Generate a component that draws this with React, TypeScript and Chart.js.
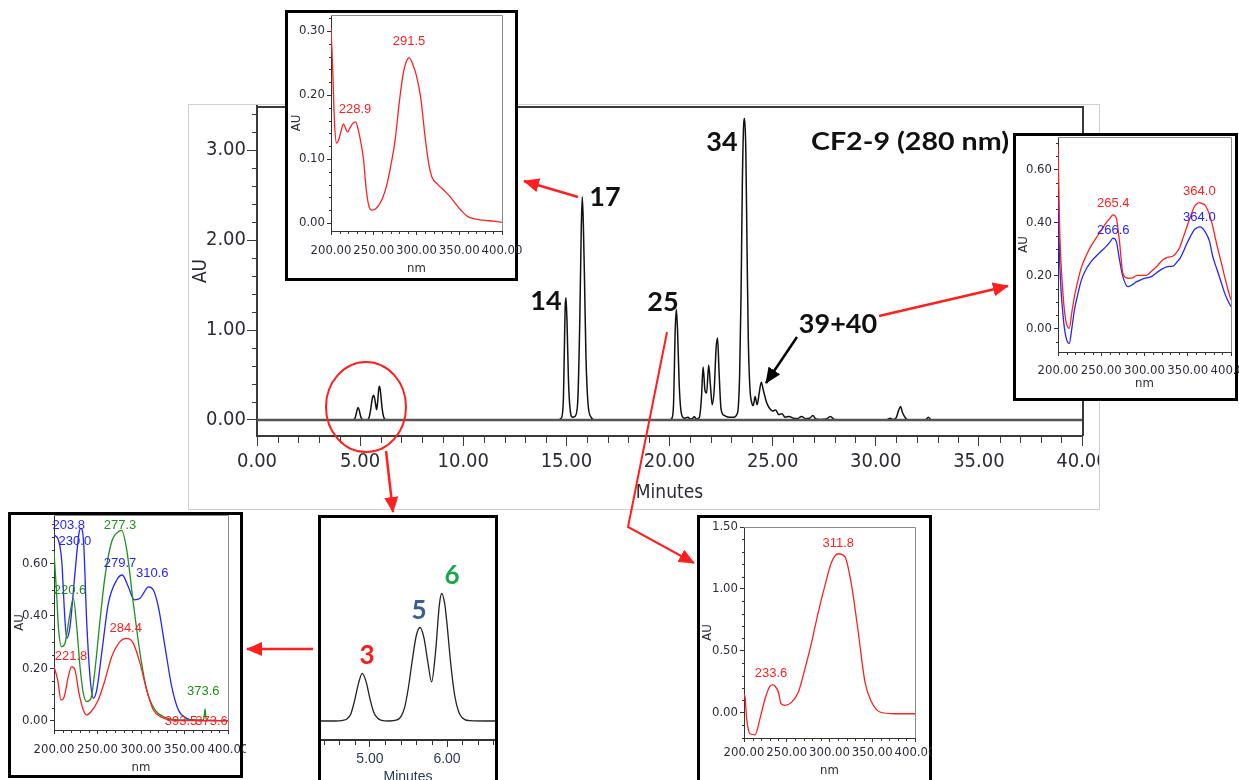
import React, { useEffect, useRef } from 'react';
import { Chart, registerables } from 'chart.js';

Chart.register(...registerables);

const NARROW = "'Liberation Sans Narrow', 'DejaVu Sans Condensed', 'Liberation Sans', Arial, sans-serif";
const SANS = "'Liberation Sans', Arial, sans-serif";
const BOLD = "Lato, 'Open Sans', 'Liberation Sans', sans-serif";

const RED = '#ff1f1f';
const BLUE = '#2424ff';
const GREEN = '#1f8f1f';

// ---------------- main chromatogram (280 nm) ----------------
const chromTime = [0, 4.55, 4.65, 4.7, 4.75, 4.8, 4.85, 4.9, 4.95, 5.0, 5.05, 5.1, 5.15, 5.25, 5.35, 5.4, 5.45, 5.5, 5.55, 5.6, 5.65, 5.7, 5.75, 5.8, 5.85, 5.9, 5.93, 5.97, 6.0, 6.05, 6.1, 6.15, 6.2, 6.3, 6.5,
  14.6, 14.75, 14.85, 14.9, 14.94, 14.98, 15.03, 15.1, 15.18, 15.3, 15.42, 15.55, 15.65, 15.72, 15.77, 15.82, 15.88, 15.95, 16.05, 16.2, 16.4,
  20.0, 20.12, 20.2, 20.27, 20.33, 20.39, 20.47, 20.57, 20.72, 20.9, 21.0, 21.1, 21.2, 21.3, 21.45, 21.55, 21.63, 21.72, 21.8, 21.9, 21.98, 22.07, 22.17, 22.26, 22.33, 22.4, 22.5, 22.65, 22.9, 23.1,
  23.3, 23.4, 23.47, 23.53, 23.6, 23.64, 23.7, 23.76, 23.82, 23.9, 23.98, 24.06, 24.15, 24.25, 24.35, 24.45, 24.55, 24.7, 24.85, 25.0, 25.15, 25.3, 25.45, 25.6, 25.8, 26.0, 26.2, 26.4, 26.6, 26.8, 26.95, 27.1, 27.3, 27.6, 27.8, 28.0, 28.3,
  30.5, 30.7, 30.85, 31.0, 31.1, 31.2, 31.3, 31.45, 31.6, 32.4, 32.55, 32.7, 40];
const chromAU = [0, 0, 0.002, 0.006, 0.02, 0.06, 0.11, 0.14, 0.115, 0.065, 0.025, 0.008, 0.002, 0, 0.003, 0.012, 0.04, 0.1, 0.18, 0.25, 0.275, 0.245, 0.175, 0.115, 0.2, 0.34, 0.375, 0.345, 0.285, 0.165, 0.075, 0.028, 0.009, 0.001, 0,
  0, 0.02, 0.2, 0.75, 1.25, 1.36, 1.1, 0.45, 0.12, 0.03, 0.04, 0.2, 1.1, 2.1, 2.48, 2.2, 1.55, 0.7, 0.18, 0.03, 0,
  0, 0.02, 0.2, 0.95, 1.23, 1.0, 0.4, 0.08, 0.02, 0.03, 0.01, 0.015, 0.035, 0.01, 0.03, 0.25, 0.59, 0.33, 0.3, 0.61, 0.4, 0.17, 0.35, 0.8, 0.91, 0.55, 0.12, 0.05, 0.03, 0.03,
  0.08, 0.5, 1.4, 2.6, 3.3, 3.35, 3.0, 1.9, 0.9, 0.35, 0.2, 0.16, 0.26, 0.17, 0.3, 0.42, 0.33, 0.2, 0.13, 0.1, 0.11, 0.06, 0.07, 0.03, 0.04, 0.02, 0.015, 0.04, 0.015, 0.02, 0.05, 0.01, 0.005, 0.01, 0.04, 0.005, 0,
  0, 0.02, 0.005, 0.03, 0.1, 0.15, 0.08, 0.02, 0, 0, 0.03, 0, 0];
const mainXTicks = [0, 5, 10, 15, 20, 25, 30, 35, 40];
const mainYTicks = [0, 1, 2, 3];
const baselineTime = [0, 40];
const baselineAU = [0, 0];

// ---------------- inset: peak 17 spectrum ----------------
const spec17Nm = [200, 202, 204, 206.5, 209, 212, 214.5, 217, 219.5, 222, 225, 228.9, 232, 235, 238, 241, 244, 247.5, 252, 256, 260, 265, 270, 275, 280, 284, 288, 291.5, 295, 300, 305, 310, 314, 318, 325, 333, 340, 345, 352, 360, 370, 380, 390, 400];
const spec17AU = [0.305, 0.24, 0.16, 0.125, 0.13, 0.145, 0.155, 0.148, 0.142, 0.148, 0.155, 0.158, 0.145, 0.125, 0.1, 0.055, 0.028, 0.02, 0.022, 0.028, 0.038, 0.058, 0.09, 0.13, 0.19, 0.23, 0.252, 0.258, 0.25, 0.23, 0.195, 0.135, 0.095, 0.072, 0.06, 0.05, 0.04, 0.031, 0.02, 0.01, 0.006, 0.004, 0.003, 0.001];
const spec17Ticks = [0, 0.1, 0.2, 0.3];
const spec17Labels = [
  { text: '228.9', nm: 228.1, au: 0.177, color: RED },
  { text: '291.5', nm: 291.2, au: 0.283, color: RED },
];

// ---------------- inset: peaks 39+40 spectra ----------------
const spec39Nm = [200, 202, 206, 209, 213, 216, 219, 223, 227, 232, 238, 244, 250, 256, 260, 263.6, 267.5, 271, 275, 281, 286, 291, 297, 302, 308, 314, 321, 327, 333, 338, 341, 345, 349, 353, 357, 360, 363.5, 367, 370, 375, 379, 384, 389, 393, 397, 400];
const spec39Red = [0.685, 0.37, 0.12, 0.03, 0.0, 0.06, 0.12, 0.18, 0.23, 0.27, 0.31, 0.34, 0.37, 0.4, 0.415, 0.428, 0.415, 0.33, 0.207, 0.189, 0.19, 0.2, 0.2, 0.2, 0.215, 0.233, 0.258, 0.268, 0.273, 0.29, 0.308, 0.345, 0.383, 0.42, 0.455, 0.468, 0.474, 0.47, 0.465, 0.43, 0.383, 0.31, 0.245, 0.19, 0.14, 0.107];
const spec39Blue = [0.5, 0.245, 0.043, -0.03, -0.057, 0.0, 0.069, 0.13, 0.182, 0.22, 0.251, 0.272, 0.292, 0.31, 0.325, 0.34, 0.327, 0.26, 0.195, 0.157, 0.165, 0.176, 0.185, 0.19, 0.195, 0.21, 0.225, 0.233, 0.235, 0.252, 0.264, 0.29, 0.32, 0.346, 0.37, 0.378, 0.383, 0.378, 0.365, 0.33, 0.27, 0.22, 0.17, 0.13, 0.1, 0.082];
const spec39Ticks = [0, 0.2, 0.4, 0.6];
const spec39Labels = [
  { text: '265.4', nm: 263.9, au: 0.472, color: RED },
  { text: '266.6', nm: 263.9, au: 0.371, color: BLUE },
  { text: '364.0', nm: 363.4, au: 0.518, color: RED },
  { text: '364.0', nm: 363.4, au: 0.419, color: BLUE },
];

// ---------------- inset: peaks 3, 5, 6 spectra ----------------
const spec5Nm = [200, 205, 208.8, 212.6, 214.6, 218.4, 224.1, 228.7, 231, 234.1, 237.5, 241.4, 245.2, 249.1, 254.8, 262.5, 272.1, 278.5, 285.4, 292.3, 298.9, 303.5, 308.4, 314.2, 319.9, 327.6, 335.3, 343, 352.5, 360, 373.6, 400];
const spec5AU = [0.709, 0.69, 0.613, 0.384, 0.314, 0.359, 0.563, 0.715, 0.734, 0.677, 0.384, 0.168, 0.086, 0.117, 0.257, 0.448, 0.537, 0.556, 0.511, 0.461, 0.467, 0.49, 0.511, 0.499, 0.435, 0.282, 0.13, 0.041, 0.009, 0.002, 0, 0];
const spec6Nm = [200, 203, 205, 208.8, 212.6, 218.4, 222.2, 226.1, 229.9, 233.7, 237.5, 242.5, 247.1, 252.9, 258.6, 266.3, 273.9, 277.8, 283.6, 291.2, 298.9, 306.6, 316.1, 327.6, 343, 372, 373.6, 375, 400];
const spec6AU = [0.643, 0.486, 0.359, 0.282, 0.295, 0.41, 0.467, 0.359, 0.206, 0.105, 0.073, 0.086, 0.194, 0.384, 0.55, 0.683, 0.721, 0.725, 0.652, 0.448, 0.257, 0.117, 0.041, 0.013, 0.003, 0.003, 0.045, 0.003, 0];
const spec3Nm = [200, 204.3, 208, 211.8, 216.4, 220.3, 224.1, 228.7, 233.7, 237.5, 242.5, 250.9, 258.6, 266.3, 275.9, 283.6, 291.2, 298.9, 306.6, 314.2, 323.8, 333, 345, 400];
const spec3AU = [0.206, 0.155, 0.079, 0.092, 0.168, 0.206, 0.194, 0.105, 0.041, 0.022, 0.034, 0.079, 0.155, 0.244, 0.302, 0.314, 0.295, 0.219, 0.117, 0.041, 0.013, 0.003, 0, 0];
const spec356Ticks = [0, 0.2, 0.4, 0.6];
const spec356Labels = [
  { text: '203.8', nm: 217, au: 0.747, color: BLUE },
  { text: '230.0', nm: 224, au: 0.683, color: BLUE },
  { text: '277.3', nm: 275.9, au: 0.747, color: GREEN },
  { text: '279.7', nm: 275.9, au: 0.601, color: BLUE },
  { text: '310.6', nm: 313, au: 0.563, color: BLUE },
  { text: '220.6', nm: 218.4, au: 0.499, color: GREEN },
  { text: '284.4', nm: 282.4, au: 0.353, color: RED },
  { text: '221.8', nm: 219.5, au: 0.244, color: RED },
  { text: '373.6', nm: 371.6, au: 0.111, color: GREEN },
  { text: '393.5', nm: 346, au: -0.004, color: RED },
  { text: '373.6', nm: 381, au: -0.004, color: RED },
];

// ---------------- inset: peak 25 spectrum ----------------
const spec25Nm = [200, 201.2, 203.1, 207, 212.9, 218.7, 224.6, 230.4, 233.6, 236.3, 240.2, 243.3, 248, 255.8, 263.6, 271.3, 279.1, 286.9, 294.7, 302.5, 310.3, 318.1, 325.8, 333.6, 341.5, 349.2, 359, 376.6, 400];
const spec25AU = [0.15, 0.127, -0.048, -0.17, -0.178, -0.048, 0.113, 0.215, 0.225, 0.215, 0.167, 0.073, 0.06, 0.086, 0.167, 0.355, 0.571, 0.813, 1.029, 1.217, 1.284, 1.258, 1.029, 0.652, 0.248, 0.086, 0.006, -0.008, -0.008];
const spec25Ticks = [0, 0.5, 1.0, 1.5];
const spec25Labels = [
  { text: '233.6', nm: 231.6, au: 0.315, color: RED },
  { text: '311.8', nm: 310.3, au: 1.365, color: RED },
];

// ---------------- zoomed chromatogram (peaks 3, 5, 6) ----------------
const zoomTicks = [5, 6];
const nmTicks = [200, 250, 300, 350, 400];

// ---------------- helpers ----------------
function steps(a: number, b: number, s: number, skip: number[]) {
  const out: number[] = [];
  const n = Math.round((b - a) / s);
  for (let i = 0; i <= n; i++) {
    const v = +(a + i * s).toFixed(6);
    if (!skip.some((k) => Math.abs(k - v) < 1e-9)) out.push(v);
  }
  return out;
}
const pts = (xs: number[], ys: number[]) => xs.map((x, i) => ({ x, y: ys[i] }));

type Rect = { l: number; t: number; r: number; b: number };
type Axis = {
  min: number; max: number; ticks: number[]; minor: number[];
  fmt: (v: number) => string; font: any; color: string;
  tickLen: number; minorLen: number; pad: number; lineColor: string; lineWidth: number;
  title?: string; titleFont?: any; titlePad?: any;
};
type Label = { text: string; nm: number; au: number; color: string };
type Panel = {
  canvas: Rect; plot: Rect; datasets: any[]; x: Axis; y: Axis | null; yRange?: [number, number];
  frameColor?: string; frameWidth?: number; labels?: Label[]; labelFont?: string;
};

function line(xs: number[], ys: number[], color: string, width: number) {
  return {
    data: pts(xs, ys), borderColor: color, borderWidth: width, pointRadius: 0, fill: false,
    cubicInterpolationMode: 'monotone', tension: 0,
  };
}

function axisCfg(ax: Axis, horiz: boolean, size: number) {
  return {
    type: 'linear', min: ax.min, max: ax.max, position: horiz ? 'bottom' : 'left',
    afterBuildTicks: (s: any) => { s.ticks = ax.ticks.map((v) => ({ value: v })); },
    afterFit: (s: any) => {
      if (horiz) s.height = size; else s.width = size;
      s.paddingLeft = 0; s.paddingRight = 0; s.paddingTop = 0; s.paddingBottom = 0;
    },
    ticks: {
      callback: (v: any) => ax.fmt(Number(v)), font: ax.font, color: ax.color, padding: ax.pad,
      autoSkip: false, maxRotation: 0, minRotation: 0, includeBounds: false,
    },
    grid: { drawOnChartArea: false, drawTicks: true, tickLength: ax.tickLen, color: ax.lineColor, lineWidth: 1 },
    border: { display: true, color: ax.lineColor, width: ax.lineWidth },
    title: ax.title
      ? { display: true, text: ax.title, font: ax.titleFont, color: ax.color, padding: ax.titlePad }
      : { display: false },
  };
}

function makeConfig(p: Panel): any {
  const yW = p.plot.l - p.canvas.l;
  const xH = p.canvas.b - p.plot.b;
  const decor = {
    id: 'decor',
    afterDatasetsDraw(chart: any) {
      const { ctx, chartArea: a, scales } = chart;
      ctx.save();
      if (p.frameColor) {
        const w = p.frameWidth || 1;
        ctx.strokeStyle = p.frameColor; ctx.lineWidth = w;
        ctx.beginPath();
        ctx.moveTo(a.left, a.top + w / 2);
        ctx.lineTo(a.right + w / 2, a.top + w / 2);
        ctx.lineTo(a.right + w / 2, a.bottom);
        ctx.stroke();
      }
      const xs = scales.x;
      ctx.strokeStyle = p.x.lineColor; ctx.lineWidth = 1;
      for (const v of p.x.minor) {
        const px = Math.round(xs.getPixelForValue(v)) + 0.5;
        ctx.beginPath(); ctx.moveTo(px, a.bottom); ctx.lineTo(px, a.bottom + p.x.minorLen); ctx.stroke();
      }
      if (p.y) {
        const ys = scales.y;
        ctx.strokeStyle = p.y.lineColor;
        for (const v of p.y.minor) {
          const py = Math.round(ys.getPixelForValue(v)) + 0.5;
          ctx.beginPath(); ctx.moveTo(a.left - p.y.minorLen, py); ctx.lineTo(a.left, py); ctx.stroke();
        }
      }
      if (p.labels) {
        ctx.font = p.labelFont || `13px ${SANS}`;
        ctx.textAlign = 'center'; ctx.textBaseline = 'middle';
        for (const L of p.labels) {
          ctx.fillStyle = L.color;
          ctx.fillText(L.text, xs.getPixelForValue(L.nm), scales.y.getPixelForValue(L.au));
        }
      }
      ctx.restore();
    },
  };
  return {
    type: 'line',
    data: { datasets: p.datasets },
    options: {
      responsive: false, animation: false, devicePixelRatio: 1, events: [],
      layout: {
        padding: {
          left: p.y ? 0 : p.plot.l - p.canvas.l, top: p.plot.t - p.canvas.t,
          right: p.canvas.r - p.plot.r, bottom: 0,
        },
      },
      plugins: { legend: { display: false }, tooltip: { enabled: false }, title: { display: false } },
      scales: {
        x: axisCfg(p.x, true, xH),
        y: p.y ? axisCfg(p.y, false, yW) : { type: 'linear', display: false, min: p.yRange![0], max: p.yRange![1] },
      },
    },
    plugins: [decor],
  };
}

function PanelChart({ spec }: { spec: Panel }) {
  const ref = useRef<HTMLCanvasElement>(null);
  useEffect(() => {
    const chart = new Chart(ref.current as HTMLCanvasElement, makeConfig(spec));
    return () => chart.destroy();
  }, []);
  const w = spec.canvas.r - spec.canvas.l;
  const h = spec.canvas.b - spec.canvas.t;
  return (
    <canvas ref={ref} width={w} height={h}
      style={{ position: 'absolute', left: spec.canvas.l, top: spec.canvas.t, width: w, height: h, display: 'block' }} />
  );
}

function Box({ l, t, r, b, border }: { l: number; t: number; r: number; b: number; border: string }) {
  return <div style={{ position: 'absolute', left: l, top: t, width: r - l, height: b - t, border, boxSizing: 'border-box', background: '#fff' }} />;
}

// inset axis styling
const INK = '#2c2c38';
const insetTickFont = { family: NARROW, size: 13 };
const insetTitleFont = { family: NARROW, size: 13 };
const f2 = (v: number) => v.toFixed(2);

function nmAxis(pad: number, titlePad: number): Axis {
  return {
    min: 200, max: 400, ticks: nmTicks, minor: steps(200, 400, 10, nmTicks), fmt: f2,
    font: insetTickFont, color: INK, tickLen: 4, minorLen: 3, pad, lineColor: '#333', lineWidth: 1,
    title: 'nm', titleFont: insetTitleFont, titlePad: { top: 0, bottom: titlePad },
  };
}
function auAxis(min: number, max: number, ticks: number[], minorStep: number, titlePad: number): Axis {
  const lo = Math.ceil(min / minorStep) * minorStep;
  const hi = Math.floor(max / minorStep) * minorStep;
  return {
    min, max, ticks, minor: steps(lo, hi, minorStep, ticks), fmt: f2,
    font: insetTickFont, color: INK, tickLen: 4, minorLen: 2, pad: 2, lineColor: '#333', lineWidth: 1,
    title: 'AU', titleFont: insetTitleFont, titlePad: { top: titlePad, bottom: 0 },
  };
}

const mainPanel: Panel = {
  canvas: { l: 189, t: 104, r: 1099, b: 509 },
  plot: { l: 257, t: 106, r: 1082, b: 436 },
  datasets: [
    line(baselineTime, baselineAU, '#555', 2.5),
    line(chromTime, chromAU, '#111', 1.5),
  ],
  x: {
    min: 0, max: 40, ticks: mainXTicks, minor: steps(0, 40, 1, mainXTicks), fmt: f2,
    font: { family: NARROW, size: 20 }, color: INK, tickLen: 10, minorLen: 7, pad: 4,
    lineColor: '#3a3a3a', lineWidth: 2, title: 'Minutes', titleFont: { family: NARROW, size: 19 },
    titlePad: { top: 0, bottom: 5 },
  },
  y: {
    min: -0.178, max: 3.49, ticks: mainYTicks, minor: steps(0.2, 3.4, 0.2, mainYTicks), fmt: f2,
    font: { family: NARROW, size: 20 }, color: INK, tickLen: 10, minorLen: 5, pad: 1,
    lineColor: '#3a3a3a', lineWidth: 2, title: 'AU', titleFont: { family: NARROW, size: 19 },
    titlePad: { top: 1, bottom: 0 },
  },
  frameColor: '#3a3a3a', frameWidth: 2,
};

const p17: Panel = {
  canvas: { l: 288, t: 13, r: 522, b: 278 },
  plot: { l: 331, t: 15, r: 502, b: 231 },
  datasets: [line(spec17Nm, spec17AU, RED, 1.3)],
  x: nmAxis(8, 2),
  y: auAxis(-0.0125, 0.325, spec17Ticks, 0.02, 1),
  frameColor: '#8a8a8a', labels: spec17Labels,
};

const p39: Panel = {
  canvas: { l: 1016, t: 136, r: 1239, b: 398 },
  plot: { l: 1058, t: 137, r: 1231, b: 352 },
  datasets: [line(spec39Nm, spec39Red, RED, 1.3), line(spec39Nm, spec39Blue, BLUE, 1.3)],
  x: nmAxis(7, 7),
  y: auAxis(-0.0894, 0.722, spec39Ticks, 0.05, 0),
  frameColor: '#8a8a8a', labels: spec39Labels,
};

const p356: Panel = {
  canvas: { l: 11, t: 515, r: 246, b: 775 },
  plot: { l: 54, t: 515, r: 228, b: 730 },
  datasets: [
    line(spec3Nm, spec3AU, RED, 1.3),
    line(spec6Nm, spec6AU, GREEN, 1.3),
    line(spec5Nm, spec5AU, BLUE, 1.3),
  ],
  x: nmAxis(8, 0),
  y: auAxis(-0.0355, 0.785, spec356Ticks, 0.05, 1),
  frameColor: '#8a8a8a', labels: spec356Labels,
};

const p25: Panel = {
  canvas: { l: 700, t: 518, r: 932, b: 787 },
  plot: { l: 744, t: 527, r: 915, b: 738 },
  datasets: [line(spec25Nm, spec25AU, RED, 1.3)],
  x: nmAxis(3, 9),
  y: auAxis(-0.204, 1.5, spec25Ticks, 0.1, 0),
  frameColor: '#8a8a8a', labels: spec25Labels,
};

const pZoom: Panel = {
  canvas: { l: 321, t: 518, r: 495, b: 792 },
  plot: { l: 321, t: 518, r: 495, b: 740 },
  datasets: [line(chromTime, chromAU, '#222', 1.3)],
  x: {
    min: 4.364, max: 6.623, ticks: zoomTicks, minor: steps(4.4, 6.6, 0.2, zoomTicks), fmt: f2,
    font: { family: SANS, size: 14 }, color: '#2a3a52', tickLen: 7, minorLen: 5, pad: 4,
    lineColor: '#333', lineWidth: 2, title: 'Minutes', titleFont: { family: SANS, size: 14 },
    titlePad: { top: 0, bottom: 6 },
  },
  y: null, yRange: [-0.0559, 0.597],
};

export default function App() {
  return (
    <div style={{ position: 'absolute', left: 0, top: 0, width: 1239, height: 780, overflow: 'hidden', background: '#fff' }}>
      <Box l={188} t={104} r={1100} b={510} border="1px solid #cfcfcf" />
      <PanelChart spec={mainPanel} />

      <Box l={285} t={10} r={518} b={281} border="3px solid #000" />
      <PanelChart spec={p17} />

      <Box l={1013} t={133} r={1238} b={401} border="3px solid #000" />
      <PanelChart spec={p39} />

      <Box l={8} t={512} r={243} b={778} border="3px solid #000" />
      <PanelChart spec={p356} />

      <Box l={318} t={515} r={498} b={800} border="3px solid #000" />
      <PanelChart spec={pZoom} />

      <Box l={697} t={515} r={932} b={800} border="3px solid #000" />
      <PanelChart spec={p25} />

      <svg width={1239} height={780} style={{ position: 'absolute', left: 0, top: 0, pointerEvents: 'none' }}>
        <defs>
          <marker id="ahR" markerUnits="userSpaceOnUse" markerWidth="16" markerHeight="14" refX="15" refY="7" orient="auto">
            <path d="M0,0 L16,7 L0,14 z" fill={RED} />
          </marker>
          <marker id="ahK" markerUnits="userSpaceOnUse" markerWidth="16" markerHeight="14" refX="15" refY="7" orient="auto">
            <path d="M0,0 L16,7 L0,14 z" fill="#000" />
          </marker>
        </defs>
        <line x1={578} y1={197} x2={524} y2={181} stroke={RED} strokeWidth={2.5} markerEnd="url(#ahR)" />
        <line x1={879} y1={316} x2={1008} y2={286} stroke={RED} strokeWidth={2.5} markerEnd="url(#ahR)" />
        <line x1={797} y1={337} x2={766} y2={383} stroke="#000" strokeWidth={2.5} markerEnd="url(#ahK)" />
        <polyline points="667,332 628,527 694,563" fill="none" stroke={RED} strokeWidth={2} markerEnd="url(#ahR)" />
        <ellipse cx={366} cy={407} rx={40} ry={45} fill="none" stroke={RED} strokeWidth={2} />
        <line x1={386} y1={451} x2={393} y2={512} stroke={RED} strokeWidth={2.5} markerEnd="url(#ahR)" />
        <line x1={313} y1={649} x2={247} y2={649} stroke={RED} strokeWidth={2.5} markerEnd="url(#ahR)" />

        <g fontFamily={BOLD} fontWeight={700} fill="#111" textAnchor="middle">
          <text x={546} y={310} fontSize={27}>14</text>
          <text x={605} y={206} fontSize={27}>17</text>
          <text x={663} y={311} fontSize={27}>25</text>
          <text x={722} y={151} fontSize={27}>34</text>
          <text x={838} y={333} fontSize={27}>39+40</text>
          <text x={910} y={150} fontSize={24} textLength={198} lengthAdjust="spacingAndGlyphs">CF2-9 (280 nm)</text>
        </g>
        <g fontFamily={BOLD} fontWeight={700} textAnchor="middle" fontSize={26}>
          <text x={367} y={664} fill="#ff1a1a">3</text>
          <text x={419} y={619} fill="#3a5f8f">5</text>
          <text x={452} y={584} fill="#1aa64a">6</text>
        </g>
      </svg>
    </div>
  );
}
